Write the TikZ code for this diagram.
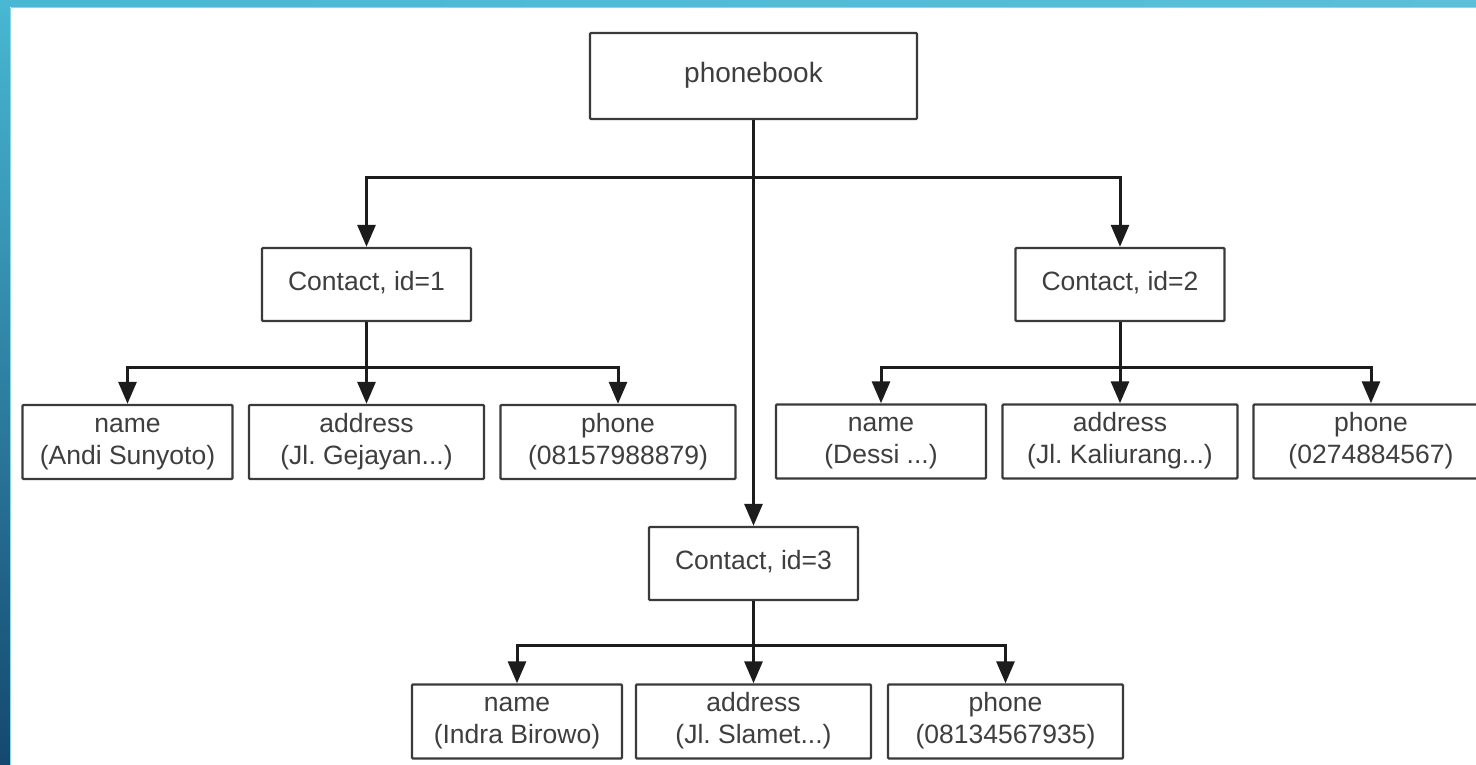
\documentclass[tikz,border=0pt]{standalone}
\usepackage{fontspec}
\setmainfont{Liberation Sans}
\usetikzlibrary{arrows.meta}
\definecolor{barTop}{RGB}{72,184,211}
\definecolor{barBot}{RGB}{20,72,112}
\definecolor{barEdge}{RGB}{140,212,232}
\definecolor{edgeGray}{RGB}{58,58,58}
\definecolor{inkGray}{RGB}{62,62,62}
\definecolor{wireBlack}{RGB}{28,28,28}

% two-line field label with uniform line heights
\newcommand{\fieldlabel}[2]{\strut#1\\\strut#2}

\begin{document}
\frenchspacing
\begin{tikzpicture}[x=1pt,y=-1pt,
  box/.style={draw=edgeGray,line width=2.4pt,fill=white,inner sep=0pt,
    align=center,text=inkGray,rounded corners=1pt,
    font=\fontsize{26.5}{32}\selectfont},
  contact/.style={box,minimum width=209pt,minimum height=73pt},
  namebox/.style={box,minimum width=210pt,minimum height=74pt},
  widebox/.style={box,minimum width=235pt,minimum height=74pt},
  wire/.style={draw=wireBlack,line width=3pt},
  arr/.style={wire,-{Triangle[width=18pt,length=22pt]}}]

\useasboundingbox (0,0) rectangle (1476,765);
\clip (0,0) rectangle (1476,765);
\fill[white] (0,0) rectangle (1476,765);

% slide frame: gradient bar on the left, band along the top
\shade[top color=barTop,bottom color=barBot] (0,0) rectangle (10,765);
\shade[left color=barTop,right color=barTop!90!white] (0,0) rectangle (1476,7);
\draw[barEdge,line width=1.2pt] (10.6,7.6) -- (10.6,765);
\draw[barEdge,line width=1.2pt] (10.6,7.6) -- (1476,7.6);

% root
\node[box,minimum width=327pt,minimum height=86pt,font=\fontsize{28}{32}\selectfont] (pb) at (753.5,76) {\strut phonebook};

% contacts
\node[contact] (c1) at (366.5,284.5) {\strut Contact, id=1};
\node[contact] (c2) at (1120,284.5) {\strut Contact, id=2};
\node[contact] (c3) at (753.5,563.5) {\strut Contact, id=3};

% fields of contact 1
\node[namebox] (n1) at (127.5,442) {\fieldlabel{name}{(Andi Sunyoto)}};
\node[widebox] (a1) at (366.5,442) {\fieldlabel{address}{(Jl. Gejayan...)}};
\node[widebox] (p1) at (618,442) {\fieldlabel{phone}{(08157988879)}};

% fields of contact 2
\node[namebox] (n2) at (881,441.5) {\fieldlabel{name}{(Dessi ...)}};
\node[widebox] (a2) at (1120,441.5) {\fieldlabel{address}{(Jl. Kaliurang...)}};
\node[widebox] (p2) at (1371,441.5) {\fieldlabel{phone}{(0274884567)}};

% fields of contact 3
\node[namebox] (n3) at (517,721.5) {\fieldlabel{name}{(Indra Birowo)}};
\node[widebox] (a3) at (753.5,721.5) {\fieldlabel{address}{(Jl. Slamet...)}};
\node[widebox] (p3) at (1005.5,721.5) {\fieldlabel{phone}{(08134567935)}};

% connectors
\coordinate (j0) at (753.5,178);
\draw[wire] (pb.south) -- (j0);
\draw[arr] (j0) -| (c1.north);
\draw[arr] (j0) -| (c2.north);
\draw[arr] (j0) -- (c3.north);

\coordinate (j1) at (366.5,367);
\draw[wire] (c1.south) -- (j1);
\draw[arr] (j1) -| (n1.north);
\draw[arr] (j1) -- (a1.north);
\draw[arr] (j1) -| (p1.north);

\coordinate (j2) at (1120,367);
\draw[wire] (c2.south) -- (j2);
\draw[arr] (j2) -| (n2.north);
\draw[arr] (j2) -- (a2.north);
\draw[arr] (j2) -| (p2.north);

\coordinate (j3) at (753.5,645);
\draw[wire] (c3.south) -- (j3);
\draw[arr] (j3) -| (n3.north);
\draw[arr] (j3) -- (a3.north);
\draw[arr] (j3) -| (p3.north);
\end{tikzpicture}
\end{document}
